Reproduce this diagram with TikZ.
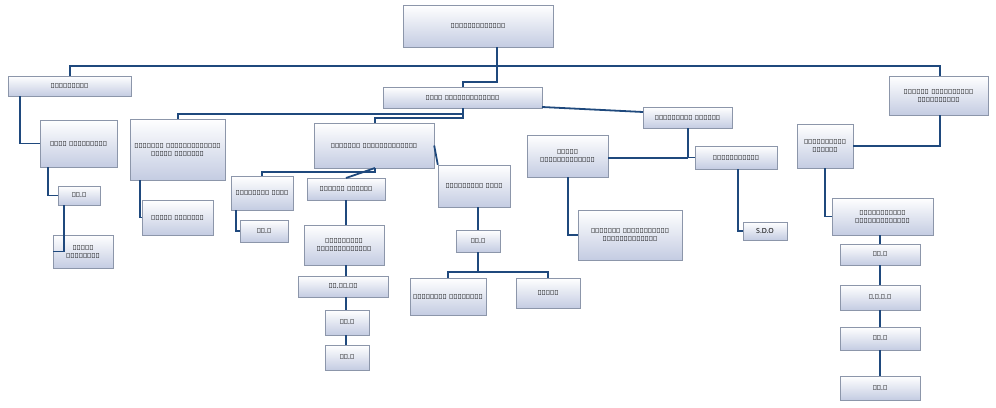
\documentclass[tikz,border=0pt]{standalone}
\usepackage{fontspec}
\setmainfont{Noto Sans}
\usetikzlibrary{shadows}
\definecolor{ln}{RGB}{31,73,125}
\definecolor{bx}{RGB}{196,204,226}
\definecolor{bd}{RGB}{140,150,170}
\begin{document}
\begin{tikzpicture}[x=1pt,y=-1pt,
 b/.style={draw=bd,top color=white,bottom color=bx,drop shadow={opacity=0.3,shadow xshift=1pt,shadow yshift=-1pt},inner sep=1pt,align=center,font=\fontsize{7}{8}\selectfont},
 c/.style={draw=ln,line width=1.8pt}]
\useasboundingbox (0,0) rectangle (996,407);
\newcommand\bx[6]{\node[b,minimum width=#4-#2,minimum height=#5-#3,text width=#4-#2-4] (#1) at ({(#2+#4)/2},{(#3+#5)/2}) {#6};}
\bx{top}{403}{5}{553}{47}{பிரதேசெயலாளர்}
\bx{kan}{8}{76}{131}{96}{கணக்காளர்}
\bx{udv}{383}{87}{542}{108}{உதவி பிரதேசெயலாளர்}
\bx{utp}{889}{76}{988}{115}{உதவித் திட்டமிடல் பணிப்பாளர்}
\bx{nidhi}{40}{120}{117}{167}{நிதி உதவியாளர்}
\bx{nog}{130}{119}{225}{180}{நிருவாக உத்தியோகத்தர் கிராம நிலதாரி}
\bx{no}{314}{123}{434}{168}{நிருவாக உத்தியோகத்தர்}
\bx{sam}{643}{107}{732}{128}{சமூர்த்தி பிரிவு}
\bx{thal}{527}{135}{608}{177}{தலைமை உத்தியோகத்தர்}
\bx{mug}{695}{146}{777}{169}{முகாமையாளர்}
\bx{thit}{797}{124}{853}{168}{திட்டமிடல் பிரிவு}
\bx{path}{231}{176}{293}{210}{பதிவாளர் கிளை}
\bx{kani}{307}{178}{385}{200}{காணிப் பிரிவு}
\bx{nk}{438}{165}{510}{207}{நிருவாகக் கிளை}
\bx{niu1}{58}{186}{100}{205}{நி.உ}
\bx{gn}{142}{200}{213}{235}{கிராம நிலதாரி}
\bx{thag}{53}{235}{113}{268}{தகவல் பதிவாளர்}
\bx{muu1}{240}{220}{288}{242}{மு.உ}
\bx{kud}{304}{225}{384}{265}{குடியேற்ற உத்தியோகத்தர்}
\bx{sao}{578}{210}{682}{260}{சமூர்தி அபிவிருத்தி உத்தியோகத்தர்}
\bx{sdo}{743}{222}{787}{240}{S.D.O}
\bx{abi}{832}{198}{933}{235}{அபிவிருத்தி உத்தியோகத்தர்}
\bx{muu2}{456}{230}{500}{252}{மு.உ}
\bx{thou}{840}{244}{920}{265}{தொ.உ}
\bx{alu}{410}{278}{486}{315}{அலுவலகப் பணியாளர்}
\bx{sar}{516}{278}{580}{308}{சாரதி}
\bx{kvp}{298}{276}{388}{297}{கா.வெ.போ}
\bx{mva}{840}{285}{920}{310}{ம.வ.அ.உ}
\bx{niu2}{325}{310}{369}{335}{நி.உ}
\bx{niu3}{840}{327}{920}{350}{நி.உ}
\bx{muu3}{325}{345}{369}{370}{மு.உ}
\bx{muu4}{840}{376}{920}{400}{மு.உ}
\coordinate (t0) at (497,47);
\coordinate (t1) at (497,66);
\draw[c] (t0) -- (t1);
\draw[c] (70,76) |- (t1) -| (940,76);
\draw[c] (t1) -- (497,82) -| (463,87);
\draw[c] (20,96) |- (nidhi.west);
\draw[c] (48,167) |- (niu1.west);
\draw[c] (64,205) |- (thag.west);
\draw[c] (463,108) -- (463,114) -| (178,119);
\draw[c] (463,114) -- (463,118) -| (375,123);
\draw[c] (542,107) -- (643,112);
\draw[c] (688,128) |- (mug.west);
\draw[c] (688,158) -- (608,158);
\draw[c] (738,169) |- (sdo.west);
\draw[c] (568,177) |- (sao.west);
\draw[c] (940,115) |- (thit.east);
\draw[c] (825,168) |- (abi.west);
\draw[c] (880,235) -- (880,244);
\draw[c] (880,265) -- (880,285);
\draw[c] (880,310) -- (880,327);
\draw[c] (880,350) -- (880,376);
\draw[c] (375,168) -- (375,172) -| (262,176);
\draw[c] (375,168) -- (346,178);
\draw[c] (no.east) -- (nk.north west);
\draw[c] (236,210) |- (muu1.west);
\draw[c] (346,200) -- (346,225);
\draw[c] (346,265) -- (346,276);
\draw[c] (346,297) -- (346,310);
\draw[c] (346,335) -- (346,345);
\draw[c] (140,180) |- (gn.west);
\draw[c] (478,207) -- (478,230);
\draw[c] (478,252) -- (478,272);
\draw[c] (448,278) |- (548,272) -- (548,278);
\end{tikzpicture}
\end{document}
